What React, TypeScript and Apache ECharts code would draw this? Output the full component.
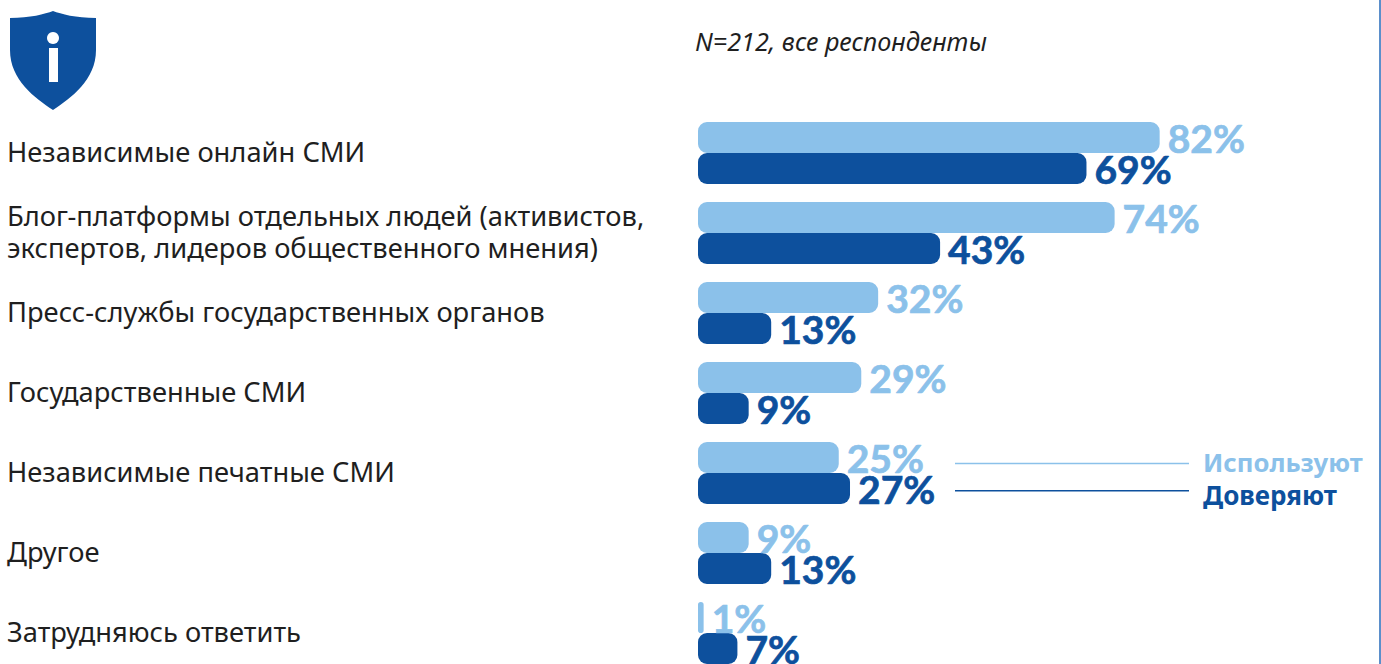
import React, { useEffect, useRef } from "react";
import * as echarts from "echarts";

const categories = [
  "Независимые онлайн СМИ",
  "Блог-платформы отдельных людей (активистов,\nэкспертов, лидеров общественного мнения)",
  "Пресс-службы государственных органов",
  "Государственные СМИ",
  "Независимые печатные СМИ",
  "Другое",
  "Затрудняюсь ответить",
];
const useValues = [82, 74, 32, 29, 25, 9, 1];
const trustValues = [69, 43, 13, 9, 27, 13, 7];
const LIGHT = "#8BC1EA";
const DARK = "#0D509D";
const FONT = "'Noto Sans', sans-serif";
const LABEL_FONT = "Lato, sans-serif";

echarts.graphic.registerShape(
  "shield",
  echarts.graphic.extendPath(
    "M53 11C45 14 30 18 10 18L10 50C10 80 35 98 53 110C71 98 96 80 96 50L96 18C76 18 61 14 53 11Z",
    {}
  )
);

export default function App() {
  const ref = useRef<HTMLDivElement>(null);
  useEffect(() => {
    document.body.style.margin = "0";
    const chart = echarts.init(ref.current!, null, { renderer: "svg" });
    const label = (color: string) => ({
      show: true,
      position: "right" as const,
      distance: 8,
      offset: [0, 0.5],
      formatter: "{c}%",
      color,
      fontFamily: LABEL_FONT,
      fontWeight: "bold" as const,
      fontSize: 39,
      textBorderColor: color,
      textBorderWidth: 0.7,
    });
    chart.setOption({
      animation: false,
      grid: { left: 698, top: 113, width: 563, height: 560, outerBoundsMode: "none" },
      xAxis: { type: "value", min: 0, max: 100, show: false },
      yAxis: {
        type: "category",
        data: categories,
        inverse: true,
        axisLine: { show: false },
        axisTick: { show: false },
        axisLabel: {
          align: "left",
          margin: 691,
          formatter: (v: string) =>
            v.split("\n").map((l) => `{a|${l}}`).join("\n"),
          rich: {
            a: {
              color: "#1f1f1f",
              fontFamily: FONT,
              fontSize: 27.3,
              lineHeight: 32,
              padding: [0, 0, 4, 0],
            },
          },
        },
      },
      series: [
        {
          name: "Используют",
          type: "bar",
          data: useValues,
          barWidth: 31,
          barGap: "0%",
          itemStyle: { color: LIGHT, borderRadius: 9 },
          label: label(LIGHT),
        },
        {
          name: "Доверяют",
          type: "bar",
          data: trustValues,
          barWidth: 31,
          barGap: "0%",
          itemStyle: { color: DARK, borderRadius: 9 },
          label: label(DARK),
        },
      ],
      graphic: [
        { type: "shield", x: 0, y: 0, style: { fill: DARK } },
        { type: "circle", shape: { cx: 53, cy: 38, r: 6 }, style: { fill: "#fff" } },
        { type: "rect", shape: { x: 49, y: 48, width: 9, height: 34 }, style: { fill: "#fff" } },
        {
          type: "text",
          x: 695,
          y: 41,
          style: {
            text: "N=212, все респонденты",
            fill: "#1f1f1f",
            font: `italic 25.2px ${FONT}`,
            verticalAlign: "middle",
          },
        },
        { type: "line", shape: { x1: 955, y1: 463.5, x2: 1189, y2: 463.5 }, style: { stroke: LIGHT, lineWidth: 1.5 } },
        { type: "line", shape: { x1: 955, y1: 490.7, x2: 1189, y2: 490.7 }, style: { stroke: DARK, lineWidth: 1.5 } },
        {
          type: "text",
          x: 1203,
          y: 462,
          style: { text: "Используют", fill: LIGHT, font: `bold 25.7px ${FONT}`, verticalAlign: "middle" },
        },
        {
          type: "text",
          x: 1203,
          y: 495,
          style: { text: "Доверяют", fill: DARK, font: `bold 26px ${FONT}`, verticalAlign: "middle" },
        },
        { type: "rect", shape: { x: 1379, y: 0, width: 2, height: 664 }, style: { fill: "#5B8FCB" } },
      ],
    });
    return () => chart.dispose();
  }, []);
  return <div ref={ref} style={{ width: 1381, height: 664 }} />;
}
